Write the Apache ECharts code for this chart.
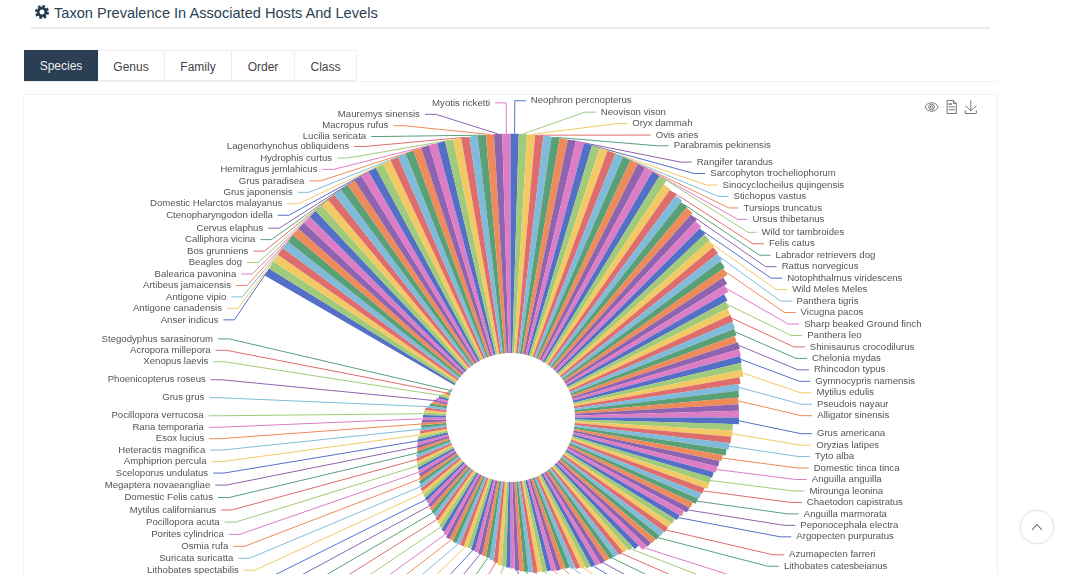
<!DOCTYPE html>
<html><head><meta charset="utf-8">
<script src="https://cdn.jsdelivr.net/npm/echarts@6/dist/echarts.min.js"></script>
<style>
html,body{margin:0;padding:0;width:1080px;height:574px;overflow:hidden;background:#fff;font-family:"Liberation Sans",Arial,sans-serif}
.t{position:absolute;left:54px;top:4px;font-size:14.6px;line-height:19px;color:#2a3f54}
.g{position:absolute;left:35px;top:5px}
.u{position:absolute;left:31px;top:27px;width:959px;height:2px;background:#e8ebe9}
.b{position:absolute;left:24px;top:81px;width:973px;height:1px;background:#eef0f1}
.tab{position:absolute;top:50px;height:31px;line-height:32px;text-align:center;font-size:12px;color:#444;box-sizing:border-box;border:1px solid #eceef0;border-left:0}
.on{background:#2a3f54;color:#eee;border:0}
#c{position:absolute;left:24px;top:95px;width:973px;height:645px;box-sizing:content-box;outline:1px solid #f1f2f3}
.up{position:absolute;left:1020px;top:510px;width:32px;height:32px;border-radius:50%;border:1px solid #e6e6e6;background:#fff;box-shadow:0 0 3px #eee}
</style></head><body>
<svg class="g" width="14" height="14" viewBox="0 0 14 14"><circle cx="7" cy="7" r="3.9" fill="none" stroke="#22394f" stroke-width="2.8"/><circle cx="7" cy="7" r="5.9" fill="none" stroke="#22394f" stroke-width="2.2" stroke-dasharray="2.6 2"/></svg>
<div class="t">Taxon Prevalence In Associated Hosts And Levels</div><div class="u"></div>
<div class="b"></div>
<div class="tab on" style="left:24px;width:74px">Species</div>
<div class="tab" style="left:98px;width:67px">Genus</div>
<div class="tab" style="left:165px;width:67px">Family</div>
<div class="tab" style="left:232px;width:63px">Order</div>
<div class="tab" style="left:295px;width:62px">Class</div>
<div id="c"></div>
<div class="up"><svg width="32" height="32" viewBox="0 0 32 32"><path d="M11 19l5-5.5 5 5.5" fill="none" stroke="#666" stroke-width="1.1"/></svg></div>
<script>
const palette=['#5470c6','#9fcb7b','#f3c965','#df6d6d','#80bbdc','#59a077','#ee8b5a','#8e64b0','#dc7dc6'];
// taxon names that can be read, with their position in the data order
const taxonSlots=[0,2,4,6,8,10,12,14,16,18,20,22,24,26,28,30,32,33,34,35,36,37,38,39,41,43,45,47,49,51,53,55,57,59,61,63,65,67,69,71,73,75,77,79,81,83,85,87,90,92,94,96,98,100,102,104,106,108,111,113,171,173,175,177,179,181,183,185,187,189,191,193,195,197,199,202,205,208,210,212];
const taxonNames=['Anser indicus','Antigone canadensis','Antigone vipio','Artibeus jamaicensis','Balearica pavonina','Beagles dog','Bos grunniens','Calliphora vicina','Cervus elaphus','Ctenopharyngodon idella','Domestic Helarctos malayanus','Grus japonensis','Grus paradisea','Hemitragus jemlahicus','Hydrophis curtus','Lagenorhynchus obliquidens','Lucilia sericata','Macropus rufus','Mauremys sinensis','Myotis ricketti','Neophron percnopterus','Neovison vison','Oryx dammah','Ovis aries','Parabramis pekinensis','Rangifer tarandus','Sarcophyton trocheliophorum','Sinocyclocheilus qujingensis','Stichopus vastus','Tursiops truncatus','Ursus thibetanus','Wild tor tambroides','Felis catus','Labrador retrievers dog','Rattus norvegicus','Notophthalmus viridescens','Wild Meles Meles','Panthera tigris','Vicugna pacos','Sharp beaked Ground finch','Panthera leo','Shinisaurus crocodilurus','Chelonia mydas','Rhincodon typus','Gymnocypris namensis','Mytilus edulis','Pseudois nayaur','Alligator sinensis','Grus americana','Oryzias latipes','Tyto alba','Domestic tinca tinca','Anguilla anguilla','Mirounga leonina','Chaetodon capistratus','Anguilla marmorata','Peponocephala electra','Argopecten purpuratus','Azumapecten farreri','Lithobates catesbeianus','Stylophora pistillata','Lithobates spectabilis','Suricata suricatta','Osmia rufa','Porites cylindrica','Pocillopora acuta','Mytilus californianus','Domestic Felis catus','Megaptera novaeangliae','Sceloporus undulatus','Amphiprion percula','Heteractis magnifica','Esox lucius','Rana temporaria','Pocillopora verrucosa','Grus grus','Phoenicopterus roseus','Xenopus laevis','Acropora millepora','Stegodyphus sarasinorum'];
// slices whose labels lie below the photographed area, so their names cannot be read
const belowCropSlots=[116,118,120,122,124,126,128,130,132,134,136,138,140,142,145,147,149,151,153,155,157,159,161,163,165,167,169];
const prevalence=[
218,218,218,218,218,218,218,218,218,218,
218,218,218,218,218,218,218,218,218,218,
218,218,218,218,218,218,218,218,218,218,
218,218,218,218,218,218,218,218,218,218,
218,218,218,218,218,218,218,218,218,218,
218,218,218,218,218,218,
213,212,211,209,208,206,204,202,201,200,
199,198,196,194,189,186,181,179,177,177,
176,175,173,174,173,172,171,171,167,165,
164,163,163,163,163,157,157,156,155,153,
150,148,147,145,144,144,141,140,139,136,
135,132,130,128,127,127,126,125,124,123,
122,116,113,111,110,109,108,107,107,106,
105,104,102,100,98,96,95,95,94,93,
93,92,92,91,90,89,88,86,85,84,
83,81,79,77,76,75,74,73,72,72,
72,72,72,71,71,69,67,65,63,61,
59,58,57,55,54,53,52,51,50,49,
47,45,43,42,41,40,39,38,37,35,
34,33,32,31,30,28,27,26,25,25,
24,23,23,22,22,21,19,17,15,14,
12,10,9,7,5,3,2,1,0,0];
const isShown=i=>taxonSlots.includes(i)||belowCropSlots.includes(i);
// label stacking height of each slice: slices without a visible label keep a tiny blank one
function slotHeight(i){
 if(isShown(i)) return (i>=33&&i<=39)?11.45:10;
 if(i===40) return 6.3;
 if(i>=213) return 2.67;
 let n=1;
 for(let j=i-1;j>=0&&!isShown(j);j--) n++;
 for(let j=i+1;j<prevalence.length&&!isShown(j);j++) n++;
 return (5.73*(n+1)-10)/n;
}
const sliceData=prevalence.map((v,i)=>{
 const k=taxonSlots.indexOf(i), shown=isShown(i), h=slotHeight(i);
 return {name:k>=0?taxonNames[k]:(shown?'Taxon '+(i+1):' '),value:v,
  itemStyle:{color:palette[i%palette.length]},
  label:shown?{lineHeight:h}:{lineHeight:h,fontSize:h},
  labelLine:{lineStyle:{opacity:shown?1:0}}};
});
const chart=echarts.init(document.getElementById('c'),null,{renderer:'canvas'});
chart.setOption({
 animation:false,color:palette,
 toolbox:{show:true,right:3,top:-12,itemSize:13,itemGap:4,iconStyle:{borderColor:'#777',color:'none'},feature:{
  myEye:{show:true,title:'view',icon:'path://M0 6C3-1 13-1 16 6 13 13 3 13 0 6ZM8 2.5A3.5 3.5 0 1 0 8 9.5 3.5 3.5 0 1 0 8 2.5ZM8 4.5A1.5 1.5 0 1 0 8 7.5 1.5 1.5 0 1 0 8 4.5Z',onclick(){}},
  dataView:{show:true,readOnly:true},saveAsImage:{show:true}}},
 series:[{type:'pie',roseType:'area',minAngle:5,startAngle:150,radius:['20%','88%'],center:['50%','50%'],
  label:{fontSize:9.6,minMargin:0,color:'#555',fontFamily:'Liberation Sans'},
  labelLine:{length:12,length2:11,lineStyle:{width:1}},
  labelLayout:{hideOverlap:false},
  data:sliceData}]
});
</script></body></html>
